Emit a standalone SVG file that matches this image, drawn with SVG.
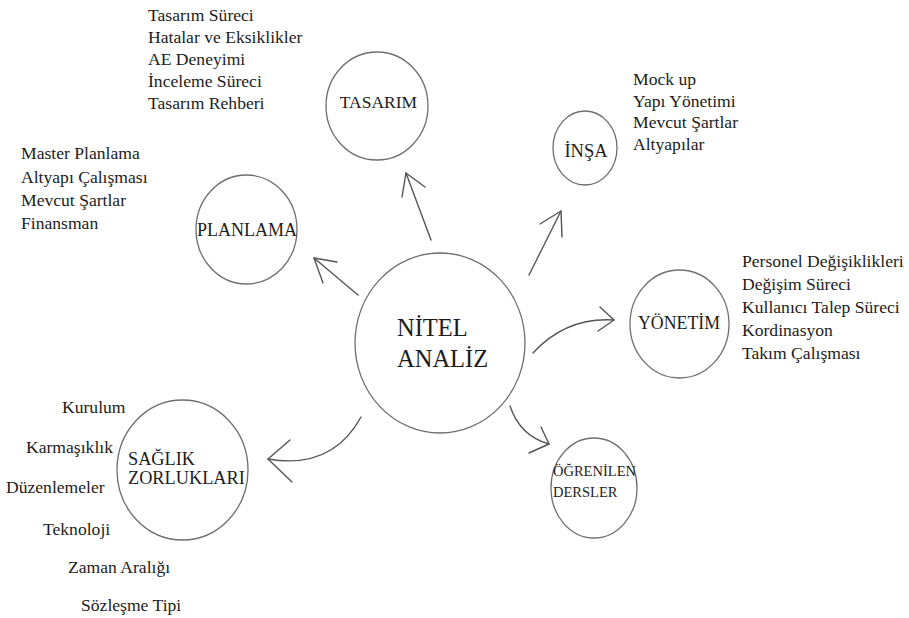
<svg xmlns="http://www.w3.org/2000/svg" width="909" height="618" viewBox="0 0 909 618">
  <style>
    .node { fill: #ffffff; stroke: #6e6e6e; stroke-width: 1.3; }
    text { font-family: 'Liberation Serif', 'DejaVu Serif', serif; fill: #1c1c1c; }
    .item { font-size: 17.6px; }
    .conn { fill: none; stroke: #555555; stroke-width: 1.4; stroke-linecap: round; stroke-linejoin: round; }
  </style>
  <rect width="909" height="618" fill="#ffffff"/>

  <!-- connectors -->
  <g id="connectors">
    <path class="conn" d="M431,240 L406,173"/>
    <polyline class="conn" points="402,197 406,173 425,187"/>
    <path class="conn" d="M529,275 L561,211"/>
    <polyline class="conn" points="540,224 561,211 562,237"/>
    <path class="conn" d="M358,295 L314,258"/>
    <polyline class="conn" points="337,262 314,258 323,283"/>
    <path class="conn" d="M533,353 Q566,317 614,320"/>
    <polyline class="conn" points="600,307 614,320 598,331"/>
    <path class="conn" d="M510,406 Q520,436 549,444"/>
    <polyline class="conn" points="541,427 549,444 529,453"/>
    <path class="conn" d="M361,417 Q332,470 268,459"/>
    <polyline class="conn" points="290,440 268,459 292,482"/>
  </g>

  <g font-family="Liberation Serif, DejaVu Serif, serif">
  <!-- central node -->
  <g id="nitel-analiz">
    <ellipse class="node" cx="440" cy="343" rx="85" ry="90"/>
    <text font-size="24.5" x="397" y="336">NİTEL</text>
    <text font-size="24.5" x="397" y="367">ANALİZ</text>
  </g>

  <g id="tasarim">
    <ellipse class="node" cx="377" cy="106" rx="51" ry="54"/>
    <text font-size="17.5" x="378.5" y="108" text-anchor="middle">TASARIM</text>
  </g>
  <g id="tasarim-items">
    <text class="item" x="148" y="21">Tasarım Süreci</text>
    <text class="item" x="148" y="43">Hatalar ve Eksiklikler</text>
    <text class="item" x="148" y="65">AE Deneyimi</text>
    <text class="item" x="148" y="87">İnceleme Süreci</text>
    <text class="item" x="148" y="109">Tasarım Rehberi</text>
  </g>

  <g id="insa">
    <ellipse class="node" cx="585" cy="148" rx="32" ry="37"/>
    <text font-size="18.5" x="586" y="157" text-anchor="middle">İNŞA</text>
  </g>
  <g id="insa-items">
    <text class="item" x="633" y="85">Mock up</text>
    <text class="item" x="633" y="107">Yapı Yönetimi</text>
    <text class="item" x="633" y="128">Mevcut Şartlar</text>
    <text class="item" x="633" y="150">Altyapılar</text>
  </g>

  <g id="planlama">
    <ellipse class="node" cx="246.5" cy="229.5" rx="50.5" ry="54.5"/>
    <text font-size="18" x="247" y="236" text-anchor="middle">PLANLAMA</text>
  </g>
  <g id="planlama-items">
    <text class="item" x="21" y="159">Master Planlama</text>
    <text class="item" x="21" y="183">Altyapı Çalışması</text>
    <text class="item" x="21" y="206">Mevcut Şartlar</text>
    <text class="item" x="21" y="229">Finansman</text>
  </g>

  <g id="yonetim">
    <ellipse class="node" cx="679.5" cy="324" rx="49.5" ry="54"/>
    <text font-size="17.8" x="679" y="329" text-anchor="middle">YÖNETİM</text>
  </g>
  <g id="yonetim-items">
    <text class="item" x="742" y="267">Personel Değişiklikleri</text>
    <text class="item" x="742" y="290">Değişim Süreci</text>
    <text class="item" x="742" y="313">Kullanıcı Talep Süreci</text>
    <text class="item" x="742" y="336">Kordinasyon</text>
    <text class="item" x="742" y="359">Takım Çalışması</text>
  </g>

  <g id="ogrenilen-dersler">
    <ellipse class="node" cx="594" cy="488" rx="43" ry="50"/>
    <text font-size="14.5" x="553" y="476">ÖĞRENİLEN</text>
    <text font-size="14.5" x="553" y="497">DERSLER</text>
  </g>

  <g id="saglik-zorluklari">
    <ellipse class="node" cx="182.5" cy="470" rx="65.5" ry="70"/>
    <text font-size="18.3" x="128" y="465">SAĞLIK</text>
    <text font-size="18.3" x="128" y="484">ZORLUKLARI</text>
  </g>
  <g id="saglik-items">
    <text class="item" x="62" y="413">Kurulum</text>
    <text class="item" x="26" y="453">Karmaşıklık</text>
    <text class="item" x="6" y="493">Düzenlemeler</text>
    <text class="item" x="43" y="535">Teknoloji</text>
    <text class="item" x="68" y="573">Zaman Aralığı</text>
    <text class="item" x="81" y="611">Sözleşme Tipi</text>
  </g>
  </g>
</svg>
